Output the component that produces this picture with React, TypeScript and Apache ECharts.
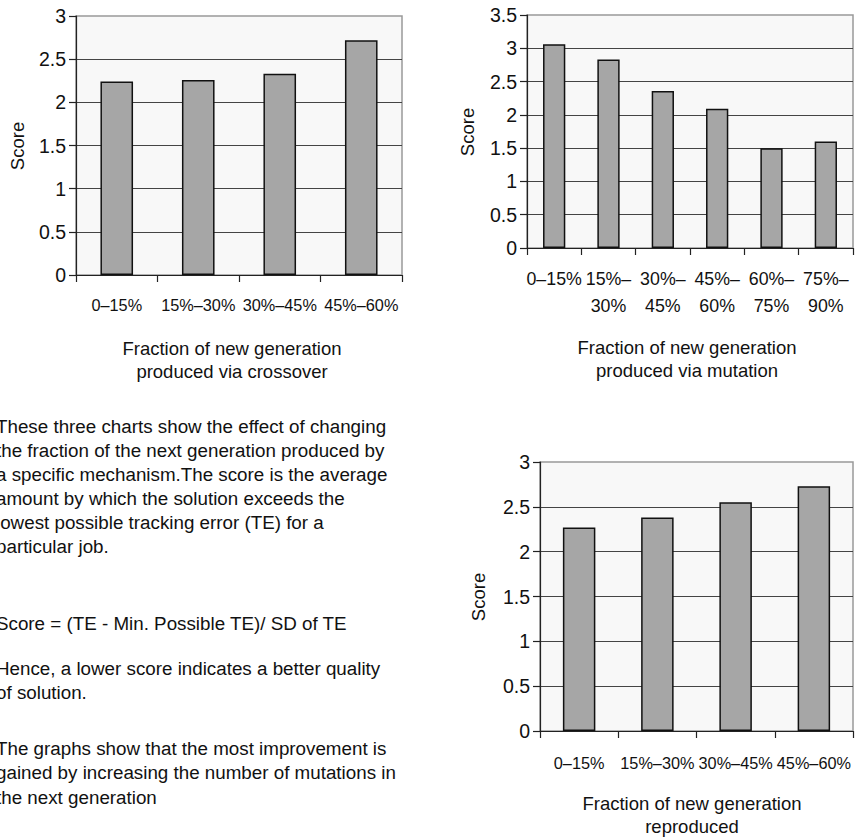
import React, { useEffect, useRef } from "react";
import * as echarts from "echarts";

const crossoverCats = ["0–15%", "15%–30%", "30%–45%", "45%–60%"];
const crossoverScores = [2.24, 2.26, 2.33, 2.72];

const mutationCats = ["0–15%", "15%–30%", "30%–45%", "45%–60%", "60%–75%", "75%–90%"];
const mutationScores = [3.06, 2.83, 2.36, 2.09, 1.5, 1.6];

const reproducedCats = ["0–15%", "15%–30%", "30%–45%", "45%–60%"];
const reproducedScores = [2.27, 2.38, 2.55, 2.73];

const yTicksCrossover = { min: 0, max: 3, interval: 0.5 };
const yTicksMutation = { min: 0, max: 3.5, interval: 0.5 };
const yTicksReproduced = { min: 0, max: 3, interval: 0.5 };

const titles = [
  "Fraction of new generation\nproduced via crossover",
  "Fraction of new generation\nproduced via mutation",
  "Fraction of new generation\nreproduced",
];

const paragraphs = [
  "These three charts show the effect of changing\nthe fraction of the next generation produced by\na specific mechanism.The score is the average\namount by which the solution exceeds the\nlowest possible tracking error (TE) for a\nparticular job.",
  "Score = (TE - Min. Possible TE)/ SD of TE",
  "Hence, a lower score indicates a better quality\nof solution.",
  "The graphs show that the most improvement is\ngained by increasing the number of mutations in\nthe next generation",
];

const FONT = '"Liberation Sans", Arial, Helvetica, sans-serif';
const TXT = "#111";

export default function App() {
  const ref = useRef<HTMLDivElement>(null);
  useEffect(() => {
    if (!ref.current) return;
    const chart = echarts.init(ref.current, undefined, { renderer: "svg" });

    const grids = [
      { left: 76, top: 16, width: 326, height: 259 },
      { left: 527, top: 15, width: 326, height: 233 },
      { left: 540, top: 462, width: 313, height: 269 },
    ].map((g) => ({
      ...g,
      show: true,
      backgroundColor: "#f8f8f8",
      borderColor: "#999",
      borderWidth: 1.5,
      containLabel: false,
    }));

    const xAxisBase = (
      gi: number,
      cats: string[],
      fs: number,
      margin: number,
      lh: number,
      fmt?: (v: string) => string
    ) => ({
      type: "category" as const,
      gridIndex: gi,
      data: cats,
      boundaryGap: true,
      axisLine: { lineStyle: { color: "#222", width: 1.2 } },
      axisTick: { show: true, length: 7, alignWithLabel: false, lineStyle: { color: "#222", width: 1.2 } },
      axisLabel: {
        color: TXT,
        fontFamily: FONT,
        fontSize: fs,
        margin,
        lineHeight: lh,
        interval: 0,
        formatter: fmt,
      },
      splitLine: { show: false },
    });

    const yAxisBase = (gi: number, t: { min: number; max: number; interval: number }) => ({
      type: "value" as const,
      gridIndex: gi,
      min: t.min,
      max: t.max,
      interval: t.interval,
      axisLine: { show: true, lineStyle: { color: "#222", width: 1.2 } },
      axisTick: { show: true, length: 7, lineStyle: { color: "#222", width: 1.2 } },
      axisLabel: { color: TXT, fontFamily: FONT, fontSize: 19.5, margin: 10 },
      splitLine: { show: true, showMaxLine: false, lineStyle: { color: "#444", width: 1 } },
    });

    const barSeries = (i: number, data: number[], w: string) => ({
      type: "bar" as const,
      xAxisIndex: i,
      yAxisIndex: i,
      data,
      barWidth: w,
      itemStyle: { color: "#a6a6a6", borderColor: "#111", borderWidth: 1.5 },
      silent: true,
    });

    const textEl = (x: number, y: number, text: string, opts: any = {}) => ({
      type: "text",
      x,
      y,
      rotation: opts.rotation || 0,
      silent: true,
      style: {
        text,
        fill: TXT,
        font: `${opts.fontSize || 18.5}px ${FONT}`,
        fontSize: opts.fontSize || 18.5,
        fontFamily: FONT,
        textAlign: opts.align || "center",
        align: opts.align || "center",
        textVerticalAlign: opts.vAlign || "middle",
        verticalAlign: opts.vAlign || "middle",
        lineHeight: opts.lineHeight || 23.5,
      },
    });

    const graphic = [
      textEl(17, 146, "Score", { rotation: Math.PI / 2 }),
      textEl(467, 132, "Score", { rotation: Math.PI / 2 }),
      textEl(478, 597, "Score", { rotation: Math.PI / 2 }),
      textEl(232, 336.5, titles[0], { vAlign: "top" }),
      textEl(687, 335.5, titles[1], { vAlign: "top" }),
      textEl(692, 791.5, titles[2], { vAlign: "top" }),
      textEl(-4, 414, paragraphs[0], { align: "left", vAlign: "top", lineHeight: 24, fontSize: 18.8 }),
      textEl(-4, 611, paragraphs[1], { align: "left", vAlign: "top", lineHeight: 24, fontSize: 18.8 }),
      textEl(-4, 656, paragraphs[2], { align: "left", vAlign: "top", lineHeight: 24, fontSize: 18.8 }),
      textEl(-4, 736, paragraphs[3], { align: "left", vAlign: "top", lineHeight: 24.5, fontSize: 18.8 }),
    ];

    chart.setOption({
      animation: false,
      backgroundColor: "#ffffff",
      grid: grids,
      xAxis: [
        xAxisBase(0, crossoverCats, 16.3, 17, 26),
        xAxisBase(1, mutationCats, 17.8, 17.5, 27, (v: string) =>
          v.startsWith("0") ? v : v.replace("–", "–\n")
        ),
        xAxisBase(2, reproducedCats, 16.3, 19, 26),
      ],
      yAxis: [yAxisBase(0, yTicksCrossover), yAxisBase(1, yTicksMutation), yAxisBase(2, yTicksReproduced)],
      series: [
        barSeries(0, crossoverScores, "40%"),
        barSeries(1, mutationScores, "41%"),
        barSeries(2, reproducedScores, "41.5%"),
      ],
      graphic,
    });
    return () => chart.dispose();
  }, []);
  return (
    <div
      ref={ref}
      style={{ position: "absolute", left: 0, top: 0, width: 861, height: 838, background: "#fff" }}
    />
  );
}
